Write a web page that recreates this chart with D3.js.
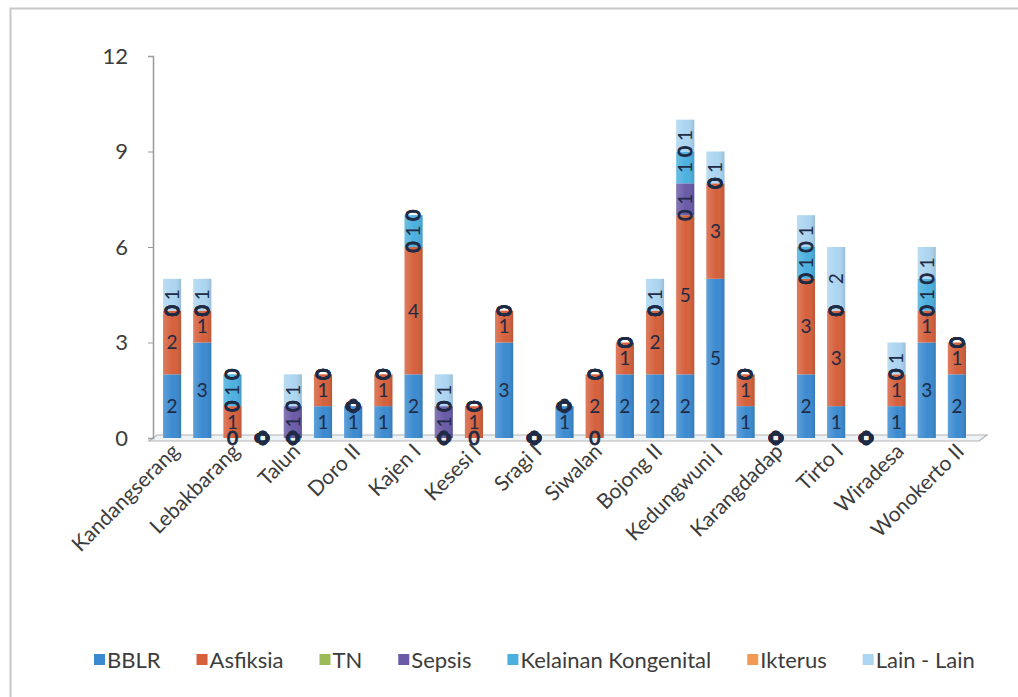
<!DOCTYPE html>
<html>
<head>
<meta charset="utf-8">
<script src="https://cdn.jsdelivr.net/npm/d3@7"></script>
<style>
  body { margin: 0; background: #fff; }
  svg text { font-family: Lato, "Open Sans", sans-serif; }
</style>
</head>
<body>
<div id="chart"></div>
<script>
var categories = ["Kandangserang", "Paninggaran", "Lebakbarang", "Petungkriyono", "Talun", "Doro I", "Doro II",
    "Karanganyar", "Kajen I", "Kajen II", "Kesesi I", "Kesesi II", "Sragi I", "Sragi II", "Siwalan", "Bojong I",
    "Bojong II", "Wonopringgo", "Kedungwuni I", "Kedungwuni II", "Karangdadap", "Buaran", "Tirto I", "Tirto II",
    "Wiradesa", "Wonokerto I", "Wonokerto II"];

var seriesNames = ["BBLR", "Asfiksia", "TN", "Sepsis", "Kelainan Kongenital", "Ikterus", "Lain - Lain"];

var bblr     = [2, 3, 0, 0, 0, 1, 1, 1, 2, 0, 0, 3, 0, 1, 0, 2, 2, 2, 5, 1, 0, 2, 1, 0, 1, 3, 2];
var asfiksia = [2, 1, 1, 0, 0, 1, 0, 1, 4, 0, 1, 1, 0, 0, 2, 1, 2, 5, 3, 1, 0, 3, 3, 0, 1, 1, 1];
var tn       = [0, 0, 0, 0, 0, 0, 0, 0, 0, 0, 0, 0, 0, 0, 0, 0, 0, 0, 0, 0, 0, 0, 0, 0, 0, 0, 0];
var sepsis   = [0, 0, 0, 0, 1, 0, 0, 0, 0, 1, 0, 0, 0, 0, 0, 0, 0, 1, 0, 0, 0, 0, 0, 0, 0, 0, 0];
var kelainan = [0, 0, 1, 0, 0, 0, 0, 0, 1, 0, 0, 0, 0, 0, 0, 0, 0, 1, 0, 0, 0, 1, 0, 0, 0, 1, 0];
var ikterus  = [0, 0, 0, 0, 0, 0, 0, 0, 0, 0, 0, 0, 0, 0, 0, 0, 0, 0, 0, 0, 0, 0, 0, 0, 0, 0, 0];
var lainLain = [1, 1, 0, 0, 1, 0, 0, 0, 0, 1, 0, 0, 0, 0, 0, 0, 1, 1, 1, 0, 0, 1, 2, 0, 1, 1, 0];

var yTicks = [0, 3, 6, 9, 12];
var colors = ["#3b8ad0", "#d5603b", "#9bbb59", "#6a5aa8", "#4cb0df", "#f39a55", "#acd5f1"];

var seriesValues = [bblr, asfiksia, tn, sepsis, kelainan, ikterus, lainLain];

var rows = categories.map(function(c, i) {
    var r = {name: c};
    seriesNames.forEach(function(s, j) { r[s] = seriesValues[j][i]; });
    return r;
});

var width = 1018, height = 697;

var svg = d3.select("#chart").append("svg")
    .attr("width", width)
    .attr("height", height);

// outer frame
svg.append("rect")
    .attr("x", 10.5).attr("y", 8.5)
    .attr("width", 1030).attr("height", 720)
    .attr("fill", "#fff")
    .attr("stroke", "#c8c8c8")
    .attr("stroke-width", 2);

var y = d3.scaleLinear()
    .domain([0, 12])
    .range([438, 56]);

var x = d3.scaleBand()
    .domain(categories)
    .range([157, 972])
    .paddingInner(0.4)
    .paddingOuter(0.2);

var color = d3.scaleOrdinal()
    .domain(seriesNames)
    .range(colors);

var defs = svg.append("defs");
var grad = defs.append("linearGradient").attr("id", "shade");
grad.append("stop").attr("offset", "0%").attr("stop-color", "#fff").attr("stop-opacity", 0.18);
grad.append("stop").attr("offset", "55%").attr("stop-color", "#fff").attr("stop-opacity", 0);
grad.append("stop").attr("offset", "100%").attr("stop-color", "#000").attr("stop-opacity", 0.12);

// 3d floor
svg.append("polygon")
    .attr("points", [[149, y(0) + 3], [979, y(0) + 3], [987, y(0) - 3], [157, y(0) - 3]].join(" "))
    .attr("fill", "#eef3f8")
    .attr("stroke", "#b4b4b4")
    .attr("stroke-width", 1.2);

// y axis
var yAxis = d3.axisLeft(y)
    .tickValues(yTicks)
    .tickSize(5)
    .tickPadding(20);

var gy = svg.append("g")
    .attr("transform", "translate(153,0)")
    .call(yAxis);
gy.select(".domain").attr("stroke", "#9a9a9a").attr("stroke-width", 1.5);
gy.selectAll(".tick line").attr("stroke", "#9a9a9a");
gy.selectAll(".tick text")
    .style("font-size", "22px")
    .attr("fill", "#3c3c3c");

var stack = d3.stack().keys(seriesNames);
var layers = stack(rows);

var groups = svg.selectAll(".layer")
    .data(layers)
    .enter().append("g")
    .attr("class", "layer")
    .attr("fill", function(d) { return color(d.key); });

groups.selectAll("rect")
    .data(function(d) { return d; })
    .enter().append("rect")
    .attr("x", function(d) { return x(d.data.name); })
    .attr("y", function(d) { return y(d[1]); })
    .attr("width", x.bandwidth())
    .attr("height", function(d) { return y(d[0]) - y(d[1]); });

// shading over the whole column
svg.selectAll(".shade")
    .data(rows)
    .enter().append("rect")
    .attr("class", "shade")
    .attr("x", function(d) { return x(d.name); })
    .attr("y", function(d) { return y(d3.sum(seriesNames, function(s) { return d[s]; })); })
    .attr("width", x.bandwidth())
    .attr("height", function(d) { return y(0) - y(d3.sum(seriesNames, function(s) { return d[s]; })); })
    .attr("fill", "url(#shade)");

// data labels
var labelGroups = svg.selectAll(".labels")
    .data(layers)
    .enter().append("g")
    .attr("class", "labels");

labelGroups.selectAll("text")
    .data(function(d) { return d.map(function(p) { return {p: p, idx: d.index}; }); })
    .enter().append("text")
    .attr("transform", function(d) {
        var cx = x(d.p.data.name) + x.bandwidth() / 2;
        var cy = y((d.p[0] + d.p[1]) / 2);
        return "translate(" + cx + "," + cy + ")" + (d.idx >= 2 ? " rotate(-90)" : "");
    })
    .attr("dy", "0.36em")
    .attr("text-anchor", "middle")
    .style("font-size", "19px")
    .attr("fill", "#1f2b45")
    .attr("stroke", function(d) { return d.p[1] - d.p[0] === 0 ? "#1f2b45" : "none"; })
    .attr("stroke-width", 1)
    .text(function(d) { return d.p[1] - d.p[0]; });

// category axis, every second name shown
var xAxis = d3.axisBottom(x)
    .tickSize(0)
    .tickFormat(function(d, i) { return i % 2 === 0 ? d : ""; });

var gx = svg.append("g")
    .attr("transform", "translate(0," + (y(0) + 6) + ")")
    .call(xAxis);
gx.select(".domain").remove();
gx.selectAll(".tick text")
    .style("font-size", "21px")
    .attr("fill", "#3c3c3c")
    .attr("text-anchor", "end")
    .attr("dy", "0.3em")
    .attr("transform", "translate(2,2) rotate(-45)");

// legend
var legend = svg.append("g").attr("class", "legendbox");
var lx = 94;
seriesNames.forEach(function(s) {
    var item = legend.append("g").attr("transform", "translate(" + lx + ",660)");
    item.append("rect")
        .attr("x", 0).attr("y", -6)
        .attr("width", 11).attr("height", 11)
        .attr("fill", color(s));
    var t = item.append("text")
        .attr("x", 13)
        .attr("dy", "0.35em")
        .style("font-size", "22px")
        .attr("fill", "#3c3c3c")
        .text(s);
    lx += 13 + t.node().getComputedTextLength() + 36;
});
</script>
</body>
</html>
